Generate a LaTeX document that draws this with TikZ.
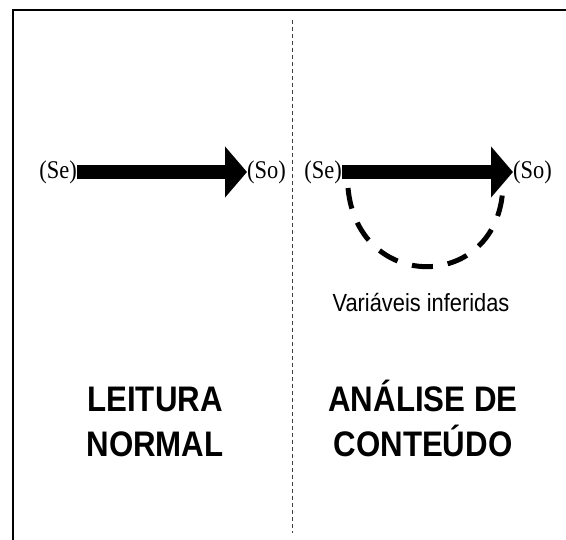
\documentclass[tikz,border=0pt]{standalone}
\usepackage{fontspec}
\newfontfamily\serifn{Liberation Serif}[FakeStretch=0.88]
\newfontfamily\sansn{Liberation Sans}[FakeStretch=0.88]
\usetikzlibrary{arrows.meta, positioning}
\tikzstyle{agent} = [inner sep=0pt, font=\serifn\fontsize{25.5}{30}\selectfont]
\tikzstyle{flow} = [line width=14pt, -{Triangle[width=50pt, length=22pt]}]
\tikzstyle{inferred} = [line width=5pt, dash pattern=on 21pt off 15pt]
\tikzstyle{heading} = [inner sep=0pt, align=center, font=\sansn\bfseries\fontsize{35.5}{45}\selectfont]
\tikzstyle{note} = [inner sep=0pt, font=\sansn\fontsize{24.8}{30}\selectfont]
\tikzstyle{divider} = [line width=0.7pt, black!75, dash pattern=on 4pt off 3pt]
\tikzstyle{border} = [line width=2pt]

\begin{document}
\begin{tikzpicture}[x=1pt, y=-1pt]
  \useasboundingbox (0,0) rectangle (566,540);
  \draw [border] (13,540) |- (566,10);
  \draw [divider] (292,20) -- (292,533);
  % leitura normal
  \node (se1) [agent, anchor=east] at (77,172) {(Se)};
  \node (so1) [agent, right=170pt of se1] {(So)};
  \draw [flow] (se1) -- (so1);
  \node (leitura) [heading, anchor=base] at (155,457) {LEITURA\\NORMAL};
  % analise de conteudo
  \node (se2) [agent, anchor=east] at (342,172) {(Se)};
  \node (so2) [agent, right=171pt of se2] {(So)};
  \draw [flow] (se2) -- (so2);
  \coordinate (vstart) at (348,188);
  \coordinate (vend) at (503,181);
  \draw [inferred] (vstart) .. controls (358,296) and (504,292) .. (vend);
  \node (vars) [note, anchor=base] at (421,312) {Variáveis inferidas};
  \node (analise) [heading, anchor=base] at (423,457) {ANÁLISE DE\\CONTEÚDO};
\end{tikzpicture}
\end{document}
